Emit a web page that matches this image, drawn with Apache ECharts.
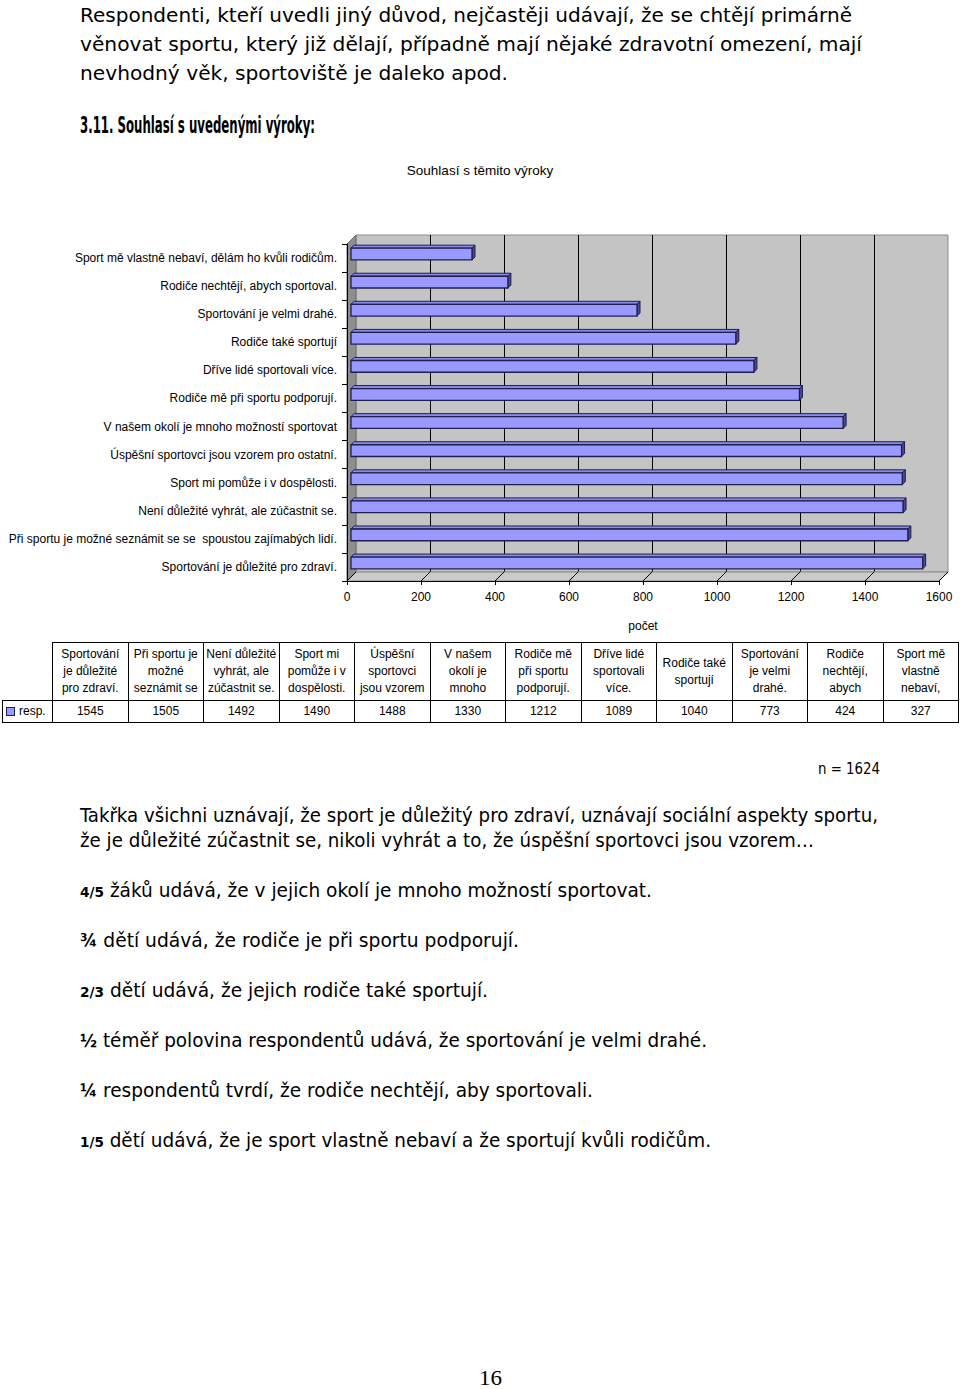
<!DOCTYPE html>
<html><head><meta charset="utf-8">
<script src="https://cdn.jsdelivr.net/npm/echarts@6/dist/echarts.min.js"></script>
<style>
html,body{margin:0;padding:0;background:#fff;}
body{width:960px;height:1389px;position:relative;overflow:hidden;}
.t{position:absolute;white-space:nowrap;font-family:'DejaVu Sans Condensed','DejaVu Sans',sans-serif;color:#000;transform-origin:0 50%;}
#chart{position:absolute;left:0;top:0;width:960px;height:640px;}
.cell{position:absolute;box-sizing:border-box;border:1px solid #000;font-family:'Liberation Sans',Arial,sans-serif;font-size:12px;color:#000;display:flex;align-items:center;justify-content:center;text-align:center;line-height:17px;white-space:pre-line;}
</style></head><body>
<div id="chart"></div>
<div id="page"></div>
<script>
// ---------- DATA ----------
const categories = [
  'Sportování je důležité pro zdraví.',
  'Při sportu je možné seznámit se se  spoustou zajímabých lidí.',
  'Není důležité vyhrát, ale zúčastnit se.',
  'Sport mi pomůže i v dospělosti.',
  'Úspěšní sportovci jsou vzorem pro ostatní.',
  'V našem okolí je mnoho možností sportovat',
  'Rodiče mě při sportu podporují.',
  'Dříve lidé sportovali více.',
  'Rodiče také sportují',
  'Sportování je velmi drahé.',
  'Rodiče nechtějí, abych sportoval.',
  'Sport mě vlastně nebaví, dělám ho kvůli rodičům.'
];
const tableHeaders = [
  'Sportování\nje důležité\npro zdraví.',
  'Při sportu je\nmožné\nseznámit se',
  'Není důležité\nvyhrát, ale\nzúčastnit se.',
  'Sport mi\npomůže i v\ndospělosti.',
  'Úspěšní\nsportovci\njsou vzorem',
  'V našem\nokolí je\nmnoho',
  'Rodiče mě\npři sportu\npodporují.',
  'Dříve lidé\nsportovali\nvíce.',
  'Rodiče také\nsportují',
  'Sportování\nje velmi\ndrahé.',
  'Rodiče\nnechtějí,\nabych',
  'Sport mě\nvlastně\nnebaví,'
];
const values = [1545, 1505, 1492, 1490, 1488, 1330, 1212, 1089, 1040, 773, 424, 327];
const seriesName = 'resp.';
const xMin = 0, xMax = 1600, xInterval = 200;
const xTicks = [0, 200, 400, 600, 800, 1000, 1200, 1400, 1600];
const chartTitle = 'Souhlasí s těmito výroky';
const xAxisName = 'počet';

// ---------- LAYOUT ----------
const FX = 347, FY = 244, FW = 592, FH = 337, D = 9;
const barColor = '#9999FF', barEdge = '#1F1F4D';

const chart = echarts.init(document.getElementById('chart'), null, {renderer: 'svg'});

function renderBar(params, api) {
  const v = api.value(0), i = api.value(1);
  const s = api.coord([0, i]), e = api.coord([v, i]);
  const band = api.size([0, 1])[1];
  const h = band * 0.42, off = 4, d = 3;
  const x0 = s[0] + off, x1 = e[0] + off, yc = s[1] - off;
  const yt = yc - h / 2, yb = yc + h / 2;
  return {type: 'group', children: [
    {type: 'polygon', shape: {points: [[x0, yt], [x1, yt], [x1 + d, yt - d], [x0 + d, yt - d]]},
      style: {fill: '#8A8AEE', stroke: barEdge, lineWidth: 1}},
    {type: 'polygon', shape: {points: [[x1, yt], [x1 + d, yt - d], [x1 + d, yb - d], [x1, yb]]},
      style: {fill: '#4A4A8E', stroke: barEdge, lineWidth: 1}},
    {type: 'rect', shape: {x: x0, y: yt, width: x1 - x0, height: h},
      style: {fill: barColor, stroke: barEdge, lineWidth: 1.3}}
  ]};
}

const font = "'Liberation Sans', Arial, sans-serif";
chart.setOption({
  animation: false,
  title: {text: chartTitle, left: 'center', top: 158,
    textStyle: {fontSize: 13.5, fontWeight: 'normal', fontFamily: font, color: '#000'}},
  grid: [
    {left: FX, top: FY, width: FW, height: FH, show: false},
    {left: FX + D, top: FY - D, width: FW, height: FH, show: true,
      backgroundColor: '#C4C4C4', borderColor: '#8C8C8C', borderWidth: 1, z: 0}
  ],
  xAxis: [
    {type: 'value', gridIndex: 0, min: xMin, max: xMax, interval: xInterval, z: 10,
      name: xAxisName, nameLocation: 'middle', nameGap: 39,
      nameTextStyle: {fontSize: 12, fontFamily: font, color: '#000'},
      axisLine: {show: true, lineStyle: {color: '#000', width: 1}},
      axisTick: {show: true, length: 4, lineStyle: {color: '#000'}},
      axisLabel: {fontSize: 12, fontFamily: font, color: '#000', margin: 10, formatter: v => String(v)},
      splitLine: {show: false}},
    {type: 'value', gridIndex: 1, min: xMin, max: xMax, interval: xInterval, z: 1,
      axisLine: {show: false}, axisTick: {show: false}, axisLabel: {show: false},
      splitLine: {show: true, showMinLine: false, showMaxLine: false, lineStyle: {color: '#000', width: 1}}}
  ],
  yAxis: [
    {type: 'category', gridIndex: 0, data: categories, z: 10,
      axisLine: {show: true, lineStyle: {color: '#000', width: 1}},
      axisTick: {show: true, length: 5, lineStyle: {color: '#000'}},
      axisLabel: {fontSize: 12, fontFamily: font, color: '#000', margin: 10},
      splitLine: {show: false}},
    {type: 'category', gridIndex: 1, data: categories, show: false}
  ],
  series: [{
    type: 'custom', name: seriesName, xAxisIndex: 0, yAxisIndex: 0, z: 5,
    renderItem: renderBar, encode: {x: 0, y: 1},
    data: values.map((v, i) => [v, i])
  }]
});

// walls, floor and floor ticks computed from the axis scale
const floorY = FY + FH;
const els = [
  {type: 'polygon', z: 1, shape: {points: [[FX, FY], [FX + D, FY - D], [FX + D, floorY - D], [FX, floorY]]},
    style: {fill: '#8E8E8E', stroke: '#6E6E6E', lineWidth: 1}},
  {type: 'polygon', z: 1, shape: {points: [[FX, floorY], [FX + D, floorY - D], [FX + FW + D, floorY - D], [FX + FW, floorY]]},
    style: {fill: '#CACACA', stroke: '#8C8C8C', lineWidth: 1}}
];
xTicks.forEach(t => {
  const px = chart.convertToPixel({xAxisIndex: 0}, t);
  els.push({type: 'line', z: 2, shape: {x1: px, y1: floorY, x2: px + D, y2: floorY - D},
    style: {stroke: '#000', lineWidth: 1}});
});
chart.setOption({graphic: {elements: els}});

// ---------- PAGE TEXT & TABLE ----------
const page = document.getElementById('page');
const texts = [
  {h: 'Respondenti, kteří uvedli jiný důvod, nejčastěji udávají, že se chtějí primárně', x: 80, y: 15, w: 772, fs: 19},
  {h: 'věnovat sportu, který již dělají, případně mají nějaké zdravotní omezení, mají', x: 80, y: 44, w: 782, fs: 19},
  {h: 'nevhodný věk, sportoviště je daleko apod.', x: 80, y: 73, w: 428, fs: 19},
  {h: '<b>3.11. Souhlasí s uvedenými výroky:</b>', x: 80, y: 125, w: 235, fs: 23},
  {h: 'n = 1624', x: 818, y: 769, w: 62, fs: 15},
  {h: 'Takřka všichni uznávají, že sport je důležitý pro zdraví, uznávají sociální aspekty sportu,', x: 80, y: 815, w: 798, fs: 19},
  {h: 'že je důležité zúčastnit se, nikoli vyhrát a to, že úspěšní sportovci jsou vzorem…', x: 80, y: 840, w: 734, fs: 19},
  {h: '<b style="font-size:14px">4/5</b> žáků udává, že v jejich okolí je mnoho možností sportovat.', x: 80, y: 890, w: 572, fs: 19},
  {h: '<b style="font-size:17px">¾</b> dětí udává, že rodiče je při sportu podporují.', x: 80, y: 940, w: 439, fs: 19},
  {h: '<b style="font-size:14px">2/3</b> dětí udává, že jejich rodiče také sportují.', x: 80, y: 990, w: 408, fs: 19},
  {h: '<b style="font-size:17px">½</b> téměř polovina respondentů udává, že sportování je velmi drahé.', x: 80, y: 1040, w: 627, fs: 19},
  {h: '<b style="font-size:17px">¼</b> respondentů tvrdí, že rodiče nechtějí, aby sportovali.', x: 80, y: 1090, w: 513, fs: 19},
  {h: '<b style="font-size:14px">1/5</b> dětí udává, že je sport vlastně nebaví a že sportují kvůli rodičům.', x: 80, y: 1140, w: 631, fs: 19},
  {h: '16', x: 479, y: 1378, w: 23, fs: 21, serif: true, lh: 22}
];
const fitEls = [];
texts.forEach(t => {
  const d = document.createElement('div');
  const lh = t.lh || 30;
  d.className = 't';
  d.innerHTML = t.h;
  d.style.left = t.x + 'px';
  d.style.top = (t.y - lh / 2) + 'px';
  d.style.height = lh + 'px';
  d.style.lineHeight = lh + 'px';
  d.style.fontSize = t.fs + 'px';
  if (t.serif) d.style.fontFamily = "'Liberation Serif', 'DejaVu Serif', serif";
  page.appendChild(d);
  fitEls.push([d, t.w]);
});
function fit() {
  fitEls.forEach(([d, w]) => {
    d.style.transform = 'none';
    const cw = d.getBoundingClientRect().width;
    if (cw > 0) d.style.transform = 'scaleX(' + (w / cw) + ')';
  });
}
fit();
if (document.fonts && document.fonts.ready) document.fonts.ready.then(fit);

// table
const TX = 52, TCW = 75.5, TY0 = 642, TY1 = 700, TY2 = 722;
function cell(x, y, w, h, txt, extra) {
  const c = document.createElement('div');
  c.className = 'cell';
  c.style.left = x + 'px'; c.style.top = y + 'px';
  c.style.width = (w + 1) + 'px'; c.style.height = (h + 1) + 'px';
  c.textContent = txt;
  if (extra) Object.assign(c.style, extra);
  page.appendChild(c);
  return c;
}
tableHeaders.forEach((hd, i) => {
  cell(TX + i * TCW, TY0, TCW, TY1 - TY0, hd);
  cell(TX + i * TCW, TY1, TCW, TY2 - TY1, String(values[i]));
});
const rc = cell(2, TY1, TX - 2, TY2 - TY1, '', {justifyContent: 'flex-start', fontSize: '12px'});
rc.innerHTML = '<span style="display:inline-block;width:7px;height:7px;background:' + barColor +
  ';border:1px solid ' + barEdge + ';margin:0 4px 0 3px"></span>' + seriesName;
</script>
</body></html>
